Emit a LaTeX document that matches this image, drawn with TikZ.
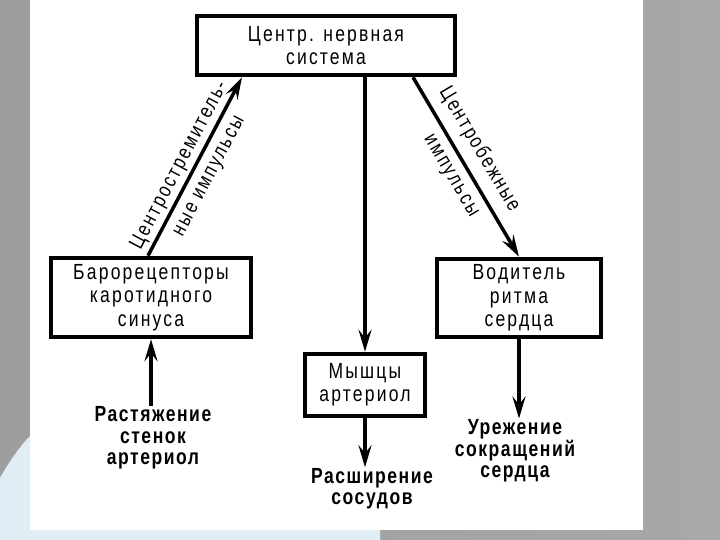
\documentclass[tikz,border=0pt]{standalone}
\usepackage{fontspec}
\setmainfont{Liberation Sans}[FakeStretch=0.8,LetterSpace=10]
\newfontfamily\heavy{Liberation Sans}[FakeStretch=0.8,LetterSpace=7]
\usetikzlibrary{arrows.meta,calc}
\definecolor{sidegray}{RGB}{158,158,158}
\definecolor{sidegrayl}{RGB}{168,168,168}
\definecolor{paleblue}{RGB}{224,237,244}
\tikzset{
  box/.style={
    draw=black,
    line width=4.5bp,
    fill=white,
    align=center,
    inner sep=0pt,
    font=\fontsize{22}{23.5}\selectfont
  },
  outcome/.style={
    align=center,
    inner sep=1bp,
    font=\heavy\bfseries\fontsize{22}{21.5}\selectfont
  },
  flow/.style={
    -{Stealth[length=22bp,width=13bp,inset=8bp]},
    line width=3.5bp
  },
  tag/.style={
    sloped,
    inner sep=2bp,
    font=\fontsize{21}{22}\selectfont
  }
}

\begin{document}
\begin{tikzpicture}[x=1bp,y=1bp]
  \useasboundingbox (0,0) rectangle (720,540);
  \shade[left color=sidegray,right color=sidegrayl] (0,0) rectangle (720,540);
  \fill[paleblue] (0,0) -- (0,62) .. controls (10,80) and (22,96) .. (30,104) -- (30,10) -- (380,10) -- (380,0) -- cycle;
  \fill[white] (30,10) rectangle (643,540);

  \node[box,minimum width=258bp,minimum height=59bp] (cns)  at (326,494.5) {Центр. нервная\\система};
  \node[box,minimum width=200bp,minimum height=79bp] (baro) at (151,242.5) {Барорецепторы\\каротидного\\синуса};
  \node[box,minimum width=164bp,minimum height=78bp] (pace) at (519,242)   {Водитель\\ритма\\сердца};
  \node[box,minimum width=120bp,minimum height=62bp] (mus)  at (365,155)   {Мышцы\\артериол};

  \node[outcome] (stretch) at (153,102) {Растяжение\\стенок\\артериол};
  \node[outcome] (slow)    at (515,89)  {Урежение\\сокращений\\сердца};
  \node[outcome] (dil)     at (372,51)  {Расширение\\сосудов};

  \draw[flow] ($(baro.north)+(-3,0)$) --
    node[tag,above=1bp,pos=0.47] {Центростремитель-}
    node[tag,below=7bp,pos=0.49] {ные импульсы}
    ($(cns.south)+(-84,0)$);
  \draw[flow] ($(cns.south)+(87,0)$) --
    node[tag,above=7bp,pos=0.46] {Центробежные}
    node[tag,below=7bp,pos=0.5] {импульсы}
    (pace.north);
  \draw[flow] (cns.south -| mus.north) -- (mus.north);
  \draw[flow] (stretch.north -| baro.south) -- (baro.south);
  \draw[flow] (pace.south) -- (pace.south |- slow.north);
  \draw[flow] (mus.south) -- (mus.south |- dil.north);
\end{tikzpicture}
\end{document}
